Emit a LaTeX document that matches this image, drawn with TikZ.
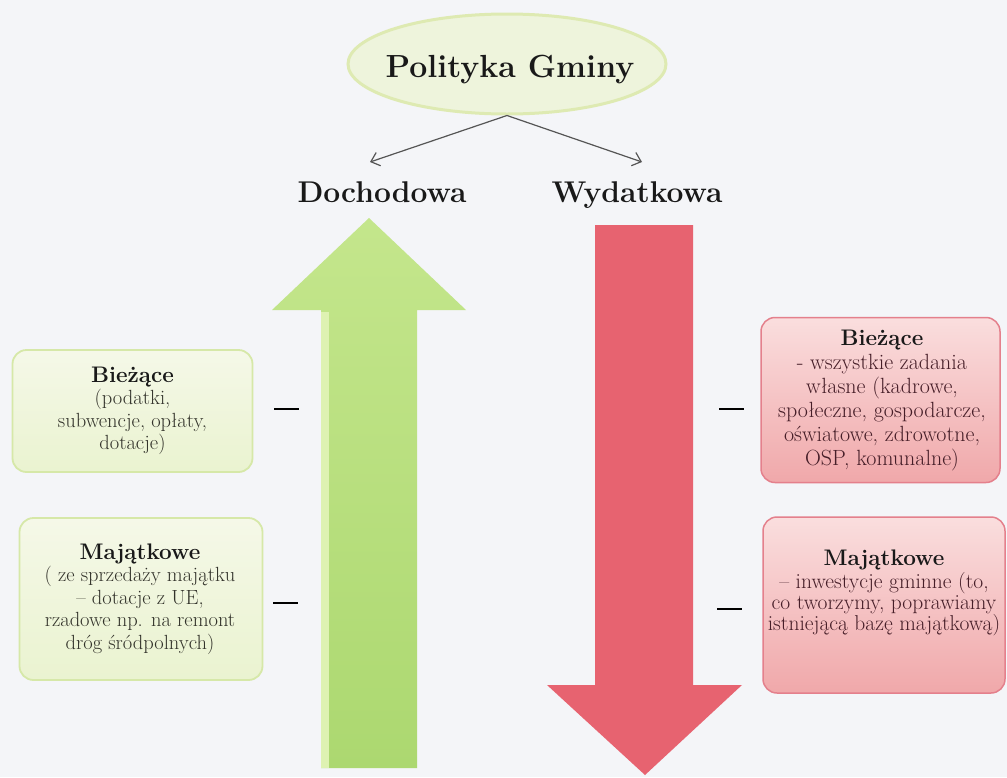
\documentclass[tikz,border=0pt]{standalone}
\usepackage{fontspec}
\usetikzlibrary{arrows.meta,shapes.geometric}
\definecolor{bg}{RGB}{244,245,248}
\definecolor{ellfill}{RGB}{238,244,220}
\definecolor{elldraw}{RGB}{222,234,178}
\definecolor{conncol}{RGB}{85,85,85}
\definecolor{greentop}{RGB}{196,230,140}
\definecolor{greenbot}{RGB}{172,216,112}
\definecolor{greenhi}{RGB}{222,242,178}
\definecolor{redmain}{RGB}{231,99,112}
\definecolor{lboxtop}{RGB}{245,248,232}
\definecolor{lboxbot}{RGB}{234,243,208}
\definecolor{lboxdraw}{RGB}{214,232,168}
\definecolor{rboxtop}{RGB}{250,222,222}
\definecolor{rboxbot}{RGB}{240,168,170}
\definecolor{rboxdraw}{RGB}{228,128,140}
\definecolor{ltext}{RGB}{50,50,42}
\definecolor{rtext}{RGB}{70,30,40}
\definecolor{ttext}{RGB}{25,25,25}
\newcommand{\boxtitle}[1]{{\color{ttext}\fontsize{22.5}{22.5}\selectfont\bfseries #1}}
\begin{document}
\begin{tikzpicture}[x=1pt,y=-1pt,
  conn/.style={draw=conncol, line width=1.2pt, -{Straight Barb[length=8pt,width=14pt,line width=1.2pt]}},
  headtxt/.style={anchor=base, inner sep=0pt, text=ttext, font=\fontsize{30}{30}\selectfont\bfseries},
  lbox/.style={draw=lboxdraw, line width=1.8pt, rounded corners=14pt, top color=lboxtop, bottom color=lboxbot, inner sep=0pt},
  rbox/.style={draw=rboxdraw, line width=1.5pt, rounded corners=14pt, top color=rboxtop, bottom color=rboxbot, inner sep=0pt},
  ltxt/.style={align=center, inner sep=0pt, text=ltext, font=\fontsize{20.5}{22.5}\selectfont},
  rtxt/.style={align=center, inner sep=0pt, text=rtext, font=\fontsize{22}{24}\selectfont},
  dashmark/.style={inner sep=0pt, fill=black, minimum width=25pt, minimum height=2pt}
]
\useasboundingbox (0,0) rectangle (1007,777);
\fill[bg] (0,0) rectangle (1007,777);

% top ellipse
\node[ellipse, draw=elldraw, line width=3pt, fill=ellfill, minimum width=318pt, minimum height=100pt] (pol) at (507,64) {};
\node[anchor=base, inner sep=0pt, text=ttext, font=\fontsize{32}{32}\selectfont\bfseries] (poltxt) at (510,77) {Polityka Gminy};

% headings
\node[headtxt] (doch) at (382,202) {Dochodowa};
\node[headtxt] (wyd) at (637,202) {Wydatkowa};
\coordinate (dl) at (370,162);
\coordinate (dr) at (642,162);
\draw[conn] (pol.south) -- (dl);
\draw[conn] (pol.south) -- (dr);

% green up arrow
\shade[top color=greentop, bottom color=greenbot]
  (369,218) -- (466,310) -- (417,310) -- (417,768) -- (321,768) -- (321,310) -- (272,310) -- cycle;
\fill[greenhi] (321,312) rectangle (329,768);

% red down arrow
\fill[redmain]
  (595,225) -- (693,225) -- (693,685) -- (742,685) -- (645,775) -- (547,685) -- (595,685) -- cycle;

% left boxes
\node[lbox, minimum width=240pt, minimum height=122pt] (lb1) at (132.5,411) {};
\node[ltxt] (lb1t) at (132.5,411) {\boxtitle{Bieżące}\\(podatki,\\subwencje, opłaty,\\dotacje)};
\node[lbox, minimum width=243pt, minimum height=162pt] (lb2) at (141,599) {};
\node[ltxt] (lb2t) at (140,599) {\boxtitle{Majątkowe}\\( ze sprzedaży majątku\\– dotacje z UE,\\rzadowe np. na remont\\dróg śródpolnych)};

% right boxes
\node[rbox, minimum width=239pt, minimum height=165pt] (rb1) at (880.5,400) {};
\node[rtxt] (rb1t) at (882,401) {\boxtitle{Bieżące}\\- wszystkie zadania\\własne (kadrowe,\\społeczne, gospodarcze,\\oświatowe, zdrowotne,\\OSP, komunalne)};
\node[rbox, minimum width=242pt, minimum height=176pt] (rb2) at (884,605) {};
\node[rtxt, font=\fontsize{21.5}{21}\selectfont] (rb2t) at (884,593) {\boxtitle{Majątkowe}\\[2pt]– inwestycje gminne (to,\\co tworzymy, poprawiamy\\istniejącą bazę majątkową)};

% dashes
\node[dashmark] (m1) at (286,409) {};
\node[dashmark] (m2) at (731,409) {};
\node[dashmark] (m3) at (285,603) {};
\node[dashmark] (m4) at (729,609) {};
\end{tikzpicture}
\end{document}
